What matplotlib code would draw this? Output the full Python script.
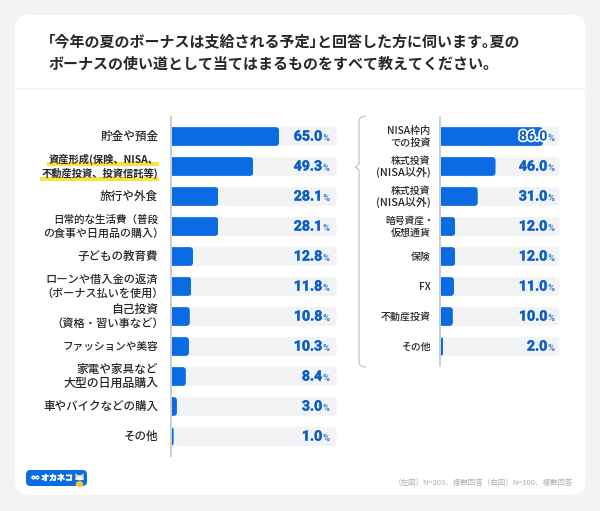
import matplotlib
matplotlib.use("Agg")
import matplotlib.pyplot as plt
import matplotlib.patheffects as pe
from matplotlib.patches import FancyBboxPatch, Rectangle, Ellipse, PathPatch, Polygon
from matplotlib.path import Path

plt.rcParams['font.family'] = ['Noto Sans CJK JP', 'DejaVu Sans']

title_lines = ["「今年の夏のボーナスは支給される予定」と回答した方に伺います。夏の",
               "ボーナスの使い道として当てはまるものをすべて教えてください。"]
left_labels = ["貯金や預金", "資産形成(保険、NISA、\n不動産投資、投資信託等)", "旅行や外食",
               "日常的な生活費（普段\nの食事や日用品の購入）", "子どもの教育費",
               "ローンや借入金の返済\n（ボーナス払いを使用）", "自己投資\n（資格・習い事など）",
               "ファッションや美容", "家電や家具など\n大型の日用品購入", "車やバイクなどの購入", "その他"]
left_values = [65.0, 49.3, 28.1, 28.1, 12.8, 11.8, 10.8, 10.3, 8.4, 3.0, 1.0]
right_labels = ["NISA枠内\nでの投資", "株式投資\n(NISA以外)", "株式投資\n(NISA以外)", "暗号資産・\n仮想通貨",
                "保険", "FX", "不動産投資", "その他"]
right_values = [86.0, 46.0, 31.0, 12.0, 12.0, 11.0, 10.0, 2.0]
footer = "（左図）N=203、複数回答（右図）N=100、複数回答"
logo_text = "∞ オカネコ"

W, H = 600, 511
BG, CARD, TRACK = "#f1f3f5", "#ffffff", "#f1f3f5"
BLUE, VALUE = "#0b6be3", "#0c5fc6"
INK, RULE = "#25282b", "#c4c6c8"
NUM_FONT = ["Roboto", "DejaVu Sans"]

fig = plt.figure(figsize=(W / 100, H / 100), dpi=100, facecolor=BG)
ov = fig.add_axes([0, 0, 1, 1], zorder=0)
ov.set_xlim(0, W); ov.set_ylim(H, 0); ov.axis("off")

ov.add_patch(FancyBboxPatch((15, 15), 570.5, 480, boxstyle="round,pad=0,rounding_size=14",
                            fc=CARD, ec="none"))
ov.plot([15, 585.5], [89, 89], color="#f4f5f6", lw=1.4, solid_capstyle="butt")

for ln, y in zip(title_lines, (41.7, 64)):
    shown = ln.replace("「", "\uff62").replace("」", "\uff63").replace("。", "\uff61") if y < 50 else ln
    ov.text(48, y, shown, fontsize=10.8, fontweight="bold", color=INK, ha="left", va="center")

def make_axes(left, top, nrows, px100):
    h = 30 * nrows
    ax = fig.add_axes([left / W, 1 - (top + h) / H, px100 / W, h / H], zorder=2)
    ax.set_xlim(0, 100); ax.set_ylim(nrows - 0.5, -0.5); ax.axis("off")
    return ax

def round_right(ax, bars, rad):
    sx = ax.get_window_extent().width / 100
    for b in bars:
        r = rad / sx
        clip = FancyBboxPatch((-5, b.get_y()), b.get_width() + 5, b.get_height(),
                              boxstyle=f"round,pad=0,rounding_size={r}",
                              mutation_aspect=sx / 30, transform=ax.transData)
        b.set_clip_path(clip)

def draw(ax, values, num_x, pct_x, rad):
    ys = range(len(values))
    tracks = ax.barh(ys, [100] * len(values), height=0.625, color=TRACK, linewidth=0, zorder=1)
    bars = ax.barh(ys, values, height=0.625, color=BLUE, linewidth=0, zorder=2)
    round_right(ax, tracks, 4)
    round_right(ax, bars, rad)
    for y, v in zip(ys, values):
        t = ax.text(num_x, y, f"{v:.1f}", ha="right", va="center", fontsize=10.2,
                    fontweight="bold", color=VALUE, family=NUM_FONT, zorder=4,
                    path_effects=[pe.withStroke(linewidth=0.3, foreground=VALUE)])
        if v > 80:
            t.set_path_effects([pe.withStroke(linewidth=2.4, foreground="white")])
        ax.text(pct_x, y + 0.08, "%", ha="left", va="center", fontsize=6.8,
                fontweight="bold", color="#3a7fd0", family=NUM_FONT, zorder=4)

axL = make_axes(172, 121.5, len(left_values), 164.6)
draw(axL, left_values, 91.2, 91.4, 3.5)
axR = make_axes(441, 121.5, len(right_values), 118.5)
draw(axR, right_values, 89.6, 89.8, 3.5)

# baselines
ov.plot([171.2, 171.2], [116, 457], color=RULE, lw=1.2, zorder=3, solid_capstyle="butt")
ov.plot([440.2, 440.2], [116, 367], color=RULE, lw=1.2, zorder=3, solid_capstyle="butt")

# highlight under the emphasised label
ov.add_patch(Rectangle((47, 161.8), 112, 3.8, fc="#fbe33c", ec="none"))
ov.add_patch(Rectangle((40, 176.8), 119, 3.8, fc="#fbe33c", ec="none"))

ROW0, STEP = 136.5, 30
def labels(items, x, sizes, gap, dy):
    for i, s in enumerate(items):
        lines = s.split("\n")
        wt = "bold" if i == 1 and x < 300 else "medium"
        for k, ln in enumerate(lines):
            y = ROW0 + STEP * i + dy + (k - (len(lines) - 1) / 2) * gap
            em = sizes[i][k] / 0.72
            inset = 0.5 * em if ln.endswith("）") else 0.35 * em if ln.endswith("・") else 0
            ov.text(x + inset, y, ln, ha="right", va="center", fontsize=sizes[i][k], fontweight=wt,
                    color=INK, zorder=5)

left_sizes = [(8.35,), (7.4, 7.4), (8.35,), (7.6, 7.9), (8.3,), (8.1, 8.0),
              (8.5, 8.1), (7.7,), (8.4, 8.6), (8.3,), (8.3,)]
right_sizes = [(7.3, 7.3), (7.1, 7.9), (7.1, 7.9), (7.05, 7.2), (7.1,), (7.3,), (7.2,), (7.1,)]
labels(left_labels, 158.3, left_sizes, 14.3, 0)
labels(right_labels, 430.5, right_sizes, 11.8, 0.5)

# curly bracket
codes = [Path.MOVETO, Path.CURVE3, Path.CURVE3, Path.LINETO, Path.LINETO, Path.LINETO,
         Path.LINETO, Path.CURVE3, Path.CURVE3]
verts = [(366, 116), (359, 116), (359, 122), (359, 164), (355.5, 167), (359, 170),
         (359, 361), (359, 367), (366, 367)]
ov.add_patch(PathPatch(Path(verts, codes), fc="none", ec="#b9bdc1", lw=0.8))

# logo
ov.add_patch(FancyBboxPatch((26, 470), 61, 16, boxstyle="round,pad=0,rounding_size=4.5",
                            fc="#0b6be3", ec="none"))
ov.text(52, 478, logo_text, color="white", fontsize=5.7, fontweight="bold", ha="center", va="center",
        path_effects=[pe.withStroke(linewidth=0.4, foreground="white")])
ov.add_patch(Polygon([(75.5, 473), (77.5, 475), (81.5, 475), (83.5, 473), (83.8, 480), (75.2, 480)],
                     fc="#dcd9cb", ec="none", zorder=3))
ov.add_patch(Ellipse((79.5, 478.5), 6, 3.6, fc="#ffffff", ec="none", zorder=3))
ov.add_patch(Ellipse((79.5, 484), 7.5, 6, fc="#f4c430", ec="none", zorder=3))
ov.add_patch(Ellipse((76.5, 487), 3.5, 2.4, fc="#ffffff", ec="none", zorder=3))

ov.text(573.5, 482.7, footer, color="#a9aeb3", fontsize=5.4, ha="right", va="center")

fig.savefig("out.png", dpi=100, facecolor=BG)
